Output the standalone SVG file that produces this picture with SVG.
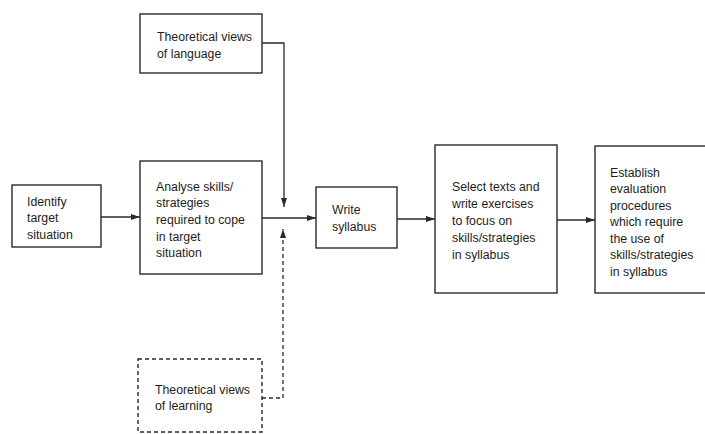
<svg xmlns="http://www.w3.org/2000/svg" width="705" height="434" viewBox="0 0 705 434">
<defs>
<style>
.box{fill:#fff;stroke:#2a2a2a;stroke-width:1.4}
.dash{stroke-dasharray:4 3}
.t{font-family:"Liberation Sans",Arial,sans-serif;font-size:12.3px;fill:#1e1e1e}
.ln{fill:none;stroke:#2a2a2a;stroke-width:1.3}
</style>
<marker id="ah" markerWidth="9" markerHeight="6" refX="9" refY="3" orient="auto" markerUnits="userSpaceOnUse">
<path d="M0,0 L9,3 L0,6 z" fill="#2a2a2a"/>
</marker>
</defs>
<rect width="705" height="434" fill="#fff"/>
<g id="connectors">
<path class="ln" d="M101,217 L140,217" marker-end="url(#ah)"/>
<path class="ln" d="M262,218 L316,218" marker-end="url(#ah)"/>
<path class="ln" d="M262,43 L284,43 L284,207" marker-end="url(#ah)"/>
<path class="ln dash" d="M262,398 L283,398 L283,229" marker-end="url(#ah)"/>
<path class="ln" d="M397,219 L435,219" marker-end="url(#ah)"/>
<path class="ln" d="M557,220 L595,220" marker-end="url(#ah)"/>
</g>
<g id="node-language">
<rect class="box" x="140" y="14" width="122" height="59"/>
<text class="t" x="157" y="41">Theoretical views</text>
<text class="t" x="157" y="58">of language</text>
</g>
<g id="node-identify">
<rect class="box" x="12" y="185" width="89" height="62"/>
<text class="t" x="27" y="206">Identify</text>
<text class="t" x="27" y="222">target</text>
<text class="t" x="27" y="239">situation</text>
</g>
<g id="node-analyse">
<rect class="box" x="140" y="161" width="122" height="113"/>
<text class="t" x="156" y="191">Analyse skills/</text>
<text class="t" x="156" y="207">strategies</text>
<text class="t" x="156" y="224">required to cope</text>
<text class="t" x="156" y="241">in target</text>
<text class="t" x="156" y="257">situation</text>
</g>
<g id="node-write">
<rect class="box" x="316" y="187" width="81" height="61"/>
<text class="t" x="332" y="214">Write</text>
<text class="t" x="332" y="231">syllabus</text>
</g>
<g id="node-select">
<rect class="box" x="435" y="145" width="122" height="148"/>
<text class="t" x="452" y="191">Select texts and</text>
<text class="t" x="452" y="208">write exercises</text>
<text class="t" x="452" y="225">to focus on</text>
<text class="t" x="452" y="242">skills/strategies</text>
<text class="t" x="452" y="259">in syllabus</text>
</g>
<g id="node-establish">
<rect class="box" x="595" y="146" width="120" height="147"/>
<text class="t" x="610" y="177">Establish</text>
<text class="t" x="610" y="193">evaluation</text>
<text class="t" x="610" y="210">procedures</text>
<text class="t" x="610" y="226">which require</text>
<text class="t" x="610" y="243">the use of</text>
<text class="t" x="610" y="259">skills/strategies</text>
<text class="t" x="610" y="276">in syllabus</text>
</g>
<g id="node-learning">
<rect class="box dash" x="138" y="359" width="124" height="73"/>
<text class="t" x="155" y="394">Theoretical views</text>
<text class="t" x="155" y="410">of learning</text>
</g>
</svg>
